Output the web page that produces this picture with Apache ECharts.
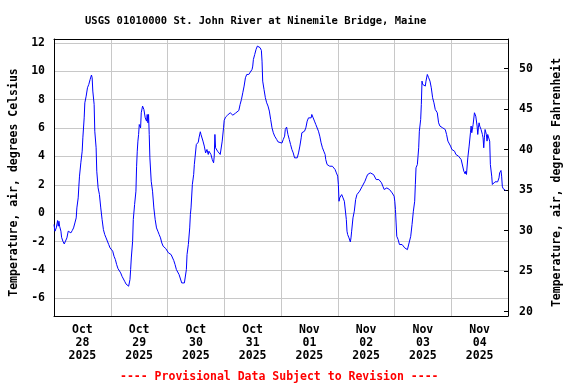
<!DOCTYPE html>
<html><head><meta charset="utf-8">
<script src="https://cdn.jsdelivr.net/npm/echarts@6/dist/echarts.min.js"></script>
<style>html,body{margin:0;padding:0;background:#fff}#c{width:576px;height:384px}</style>
</head><body><div id="c"></div>
<script>
const titleText = 'USGS 01010000 St. John River at Ninemile Bridge, Maine';
const footerText = '---- Provisional Data Subject to Revision ----';
const leftAxisName = 'Temperature, air, degrees Celsius';
const rightAxisName = 'Temperature, air, degrees Fahrenheit';
const dayLabels = ['Oct\n28\n2025','Oct\n29\n2025','Oct\n30\n2025','Oct\n31\n2025','Nov\n01\n2025','Nov\n02\n2025','Nov\n03\n2025','Nov\n04\n2025'];
const celsiusTicks = [-6,-4,-2,0,2,4,6,8,10,12];
const fahrenheitTicks = [20,25,30,35,40,45,50];
// hours since Oct 28 2025 00:00
const hours = [
0.0,0.41,0.97,1.53,1.81,2.09,2.37,2.93,3.21,3.77,4.34,4.90,5.46,6.02,6.58,7.14,7.70,8.27,8.83,9.39,
9.67,10.23,10.51,10.79,11.35,11.92,12.20,12.76,13.04,13.60,14.16,14.72,15.28,15.85,16.13,16.41,16.97,17.25,17.81,18.09,
18.65,19.21,19.78,20.34,20.90,21.46,22.02,22.58,23.14,23.71,24.27,24.83,25.39,25.95,26.51,27.07,27.63,28.20,28.76,29.32,
29.88,30.44,31.00,31.56,32.13,32.41,32.69,33.25,33.53,34.09,34.65,34.93,35.21,35.49,35.78,36.06,36.34,36.62,36.90,37.46,
38.02,38.58,39.14,39.42,39.71,39.99,40.27,40.55,41.11,41.67,42.23,42.79,43.35,43.92,44.48,45.04,45.60,46.16,46.72,47.28,
47.84,48.40,48.96,49.53,50.09,50.65,51.21,51.77,52.33,52.89,53.46,54.02,54.58,55.14,55.70,55.98,56.26,56.82,57.39,57.67,
57.95,58.51,59.07,59.35,59.63,60.19,60.47,61.03,61.32,61.88,62.16,62.72,63.00,63.56,64.12,64.68,65.24,65.53,66.09,66.37,
66.93,67.49,67.77,68.05,68.33,68.61,69.17,69.74,70.30,70.86,71.14,71.70,71.98,72.54,73.39,73.95,74.51,75.07,75.63,76.19,
76.75,77.32,78.16,78.72,79.28,79.84,80.40,80.96,81.52,82.37,83.21,83.77,84.05,84.33,84.89,85.46,86.02,86.58,87.14,87.70,
87.98,88.26,88.82,89.39,89.95,90.51,91.07,91.63,92.19,92.75,93.32,94.16,94.72,
95.28,96.40,96.96,97.53,97.81,98.37,98.65,98.93,99.49,100.05,100.61,101.17,101.74,102.30,102.86,103.42,103.98,104.54,104.82,105.39,
105.95,106.51,107.07,107.63,108.19,108.75,109.03,109.60,110.16,110.72,111.28,111.84,112.40,112.96,113.53,114.09,114.65,114.93,115.49,116.05,
116.61,117.17,117.74,118.30,118.86,119.42,119.98,120.26,120.54,120.82,121.39,121.67,121.95,122.23,122.79,123.35,123.63,123.91,124.19,124.75,
125.32,125.60,125.88,126.44,127.00,127.56,128.12,128.68,129.25,129.81,130.37,130.93,131.49,132.05,132.61,133.18,133.74,134.58,135.14,135.70,
136.26,136.82,137.39,137.95,138.51,139.07,139.63,140.19,140.75,141.32,141.88,142.44,143.00,
143.28,143.84,144.12,144.40,144.68,144.96,145.53,146.09,146.65,147.21,147.77,148.33,148.89,149.46,150.02,150.30,150.86,151.42,151.98,152.54,
152.82,153.10,153.67,153.95,154.23,154.51,155.07,155.35,155.63,155.91,156.19,156.75,157.03,157.32,157.88,158.44,159.00,159.56,160.12,160.68,
161.24,161.81,162.09,162.65,163.21,163.77,164.33,164.89,165.46,166.02,166.58,167.14,167.70,168.26,168.82,169.39,169.95,170.51,171.07,171.63,
172.19,172.75,173.32,173.88,174.16,174.44,175.00,175.56,176.12,176.40,176.68,177.25,177.81,178.37,178.65,178.93,179.21,179.49,179.77,180.05,
180.61,180.89,181.17,181.46,181.74,182.02,182.30,182.58,182.86,183.14,183.42,183.70,184.26,184.54,185.11,185.39,185.95,186.51,187.07,187.63,
188.19,188.47,189.03,189.31,189.60,189.88,190.44,191.00
];
const tempC = [
-0.80,-1.27,-1.04,-0.52,-0.92,-0.57,-0.92,-1.27,-1.70,-1.98,-2.17,-2.10,-1.74,-1.27,-1.23,-1.39,-1.23,-1.04,-0.69,-0.33,
0.37,1.08,1.90,2.61,3.55,4.37,5.31,6.72,7.78,8.25,8.84,9.08,9.43,9.74,9.55,8.61,7.67,5.78,4.61,2.96,
1.79,1.31,0.37,-0.45,-1.16,-1.51,-1.74,-1.86,-2.21,-2.45,-2.45,-2.68,-3.04,-3.27,-3.63,-3.91,-4.05,-4.21,-4.45,-4.57,
-4.80,-4.99,-5.04,-5.15,-4.68,-3.98,-3.16,-1.98,-0.45,0.61,1.55,3.31,4.37,5.08,5.55,6.25,6.25,6.02,7.08,7.55,
7.31,6.72,6.49,6.96,6.37,6.96,5.55,3.90,2.25,1.55,0.37,-0.45,-1.04,-1.27,-1.51,-1.74,-2.10,-2.33,-2.45,-2.50,
-2.64,-2.80,-2.68,-2.92,-3.04,-3.34,-3.63,-3.98,-4.10,-4.33,-4.45,-4.92,-4.97,-4.92,-4.80,-3.98,-2.92,-2.21,-1.04,-0.10,
0.37,2.02,2.73,3.43,3.90,4.84,4.96,5.01,5.31,5.74,5.55,5.55,5.08,4.73,4.25,4.49,4.14,4.37,4.42,4.14,
3.78,3.55,4.02,5.55,4.61,4.73,4.37,4.25,4.14,4.09,5.08,6.02,6.54,6.77,6.91,6.96,7.08,6.96,6.91,6.96,
7.05,7.15,7.24,7.67,8.02,8.49,8.96,9.55,9.78,9.78,9.90,10.14,10.37,10.84,11.19,11.55,11.78,11.85,11.67,11.48,
10.72,9.31,8.72,8.14,7.78,7.55,7.20,6.61,6.02,5.67,5.43,5.20,5.03,
4.94,4.94,5.20,5.43,5.90,6.07,6.14,5.55,5.20,4.84,4.49,4.25,3.90,3.78,3.90,4.25,4.73,5.31,5.67,5.71,
5.78,6.02,6.49,6.72,6.84,6.72,6.96,6.72,6.49,6.25,6.14,5.78,5.43,4.96,4.61,4.37,4.14,3.78,3.43,3.31,
3.31,3.31,3.31,3.20,3.08,2.84,2.61,2.02,0.84,1.08,1.20,1.31,1.20,1.08,0.84,0.73,-0.45,-1.27,-1.51,-1.74,
-2.03,-1.74,-1.27,-0.33,0.14,0.96,1.31,1.43,1.55,1.67,1.90,2.02,2.25,2.49,2.72,2.84,2.84,2.84,2.72,2.61,
2.37,2.49,2.37,2.25,2.14,1.90,1.67,1.67,1.78,1.78,1.67,1.55,1.43,
1.31,1.20,0.84,0.26,-0.69,-1.63,-1.86,-2.21,-2.10,-2.21,-2.33,-2.45,-2.50,-2.57,-2.68,-2.57,-1.63,-0.80,0.14,0.84,
2.02,3.20,3.43,4.02,4.61,5.78,6.61,7.67,9.31,9.08,9.20,9.08,8.96,9.31,9.78,9.55,9.31,8.84,8.14,7.78,
7.31,7.31,7.08,6.37,6.14,6.14,6.02,6.14,5.90,5.55,5.08,4.96,4.73,4.49,4.49,4.37,4.14,4.09,4.02,3.90,
3.78,3.67,2.96,2.77,2.96,2.73,3.90,4.73,5.67,6.14,5.67,6.25,7.08,6.84,6.72,6.14,5.55,6.02,6.37,6.14,
5.90,6.02,5.55,5.31,4.61,5.31,5.90,6.02,5.55,5.08,5.55,5.43,5.08,3.43,2.61,2.02,2.14,2.21,2.14,2.21,
2.49,2.84,3.01,2.61,1.90,1.74,1.67,1.60
];
const seriesData = hours.map((h, i) => [h, tempC[i]]);

const FONT = 'DejaVu Sans Mono';
const chart = echarts.init(document.getElementById('c'), null, {renderer: 'canvas'});
chart.setOption({
  animation: false,
  backgroundColor: '#fff',
  title: [{
    text: titleText, left: 80, top: 11,
    textStyle: {fontFamily: FONT, fontWeight: 'bold', fontSize: 10.5, color: '#000'}
  }, {
    text: footerText, left: 115, top: 366,
    textStyle: {fontFamily: FONT, fontWeight: 'bold', fontSize: 11.5, color: '#ff0000'}
  }],
  grid: {left: 52, right: 68, top: 39, bottom: 68, containLabel: false},
  xAxis: [{
    type: 'category', data: dayLabels, position: 'bottom', boundaryGap: true,
    axisLine: {show: true, onZero: false, lineStyle: {color: '#000', width: 1}},
    axisTick: {show: false},
    axisLabel: {fontFamily: FONT, fontWeight: 'bold', fontSize: 11.5, color: '#000', lineHeight: 13, margin: 8, interval: 0},
    splitLine: {show: true, showMinLine: false, showMaxLine: false, lineStyle: {color: '#c8c8c8', width: 1}}
  }, {
    type: 'value', min: 0, max: 192, position: 'top',
    axisLine: {show: true, onZero: false, lineStyle: {color: '#000', width: 1}},
    axisTick: {show: false}, axisLabel: {show: false}, splitLine: {show: false}
  }],
  yAxis: [{
    type: 'value', min: -7.25, max: 12.28, position: 'left',
    name: leftAxisName, nameLocation: 'middle', nameGap: 34, nameRotate: 90,
    nameTextStyle: {fontFamily: FONT, fontWeight: 'bold', fontSize: 11.5, color: '#000', padding: [0, 10, 0, 0]},
    axisLine: {show: true, onZero: false, lineStyle: {color: '#000', width: 1}},
    axisTick: {show: false, customValues: celsiusTicks},
    axisLabel: {customValues: celsiusTicks, fontFamily: FONT, fontWeight: 'bold', fontSize: 11.5, color: '#000', margin: 9},
    splitLine: {show: true, lineStyle: {color: '#c8c8c8', width: 1}}
  }, {
    type: 'value', min: 19.47, max: 53.67, position: 'right',
    name: rightAxisName, nameLocation: 'middle', nameGap: 43, nameRotate: 90,
    nameTextStyle: {fontFamily: FONT, fontWeight: 'bold', fontSize: 11.5, color: '#000', padding: [0, 10, 0, 0]},
    axisLine: {show: true, onZero: false, lineStyle: {color: '#000', width: 1}},
    axisTick: {show: true, inside: true, length: 4, customValues: fahrenheitTicks, lineStyle: {color: '#000'}},
    axisLabel: {customValues: fahrenheitTicks, fontFamily: FONT, fontWeight: 'bold', fontSize: 11.5, color: '#000', margin: 11},
    splitLine: {show: false}
  }],
  series: [{
    type: 'line', xAxisIndex: 1, yAxisIndex: 0, data: seriesData,
    showSymbol: false, symbol: 'none',
    lineStyle: {color: '#0000ff', width: 1}, itemStyle: {color: '#0000ff'}
  }]
});
</script></body></html>
